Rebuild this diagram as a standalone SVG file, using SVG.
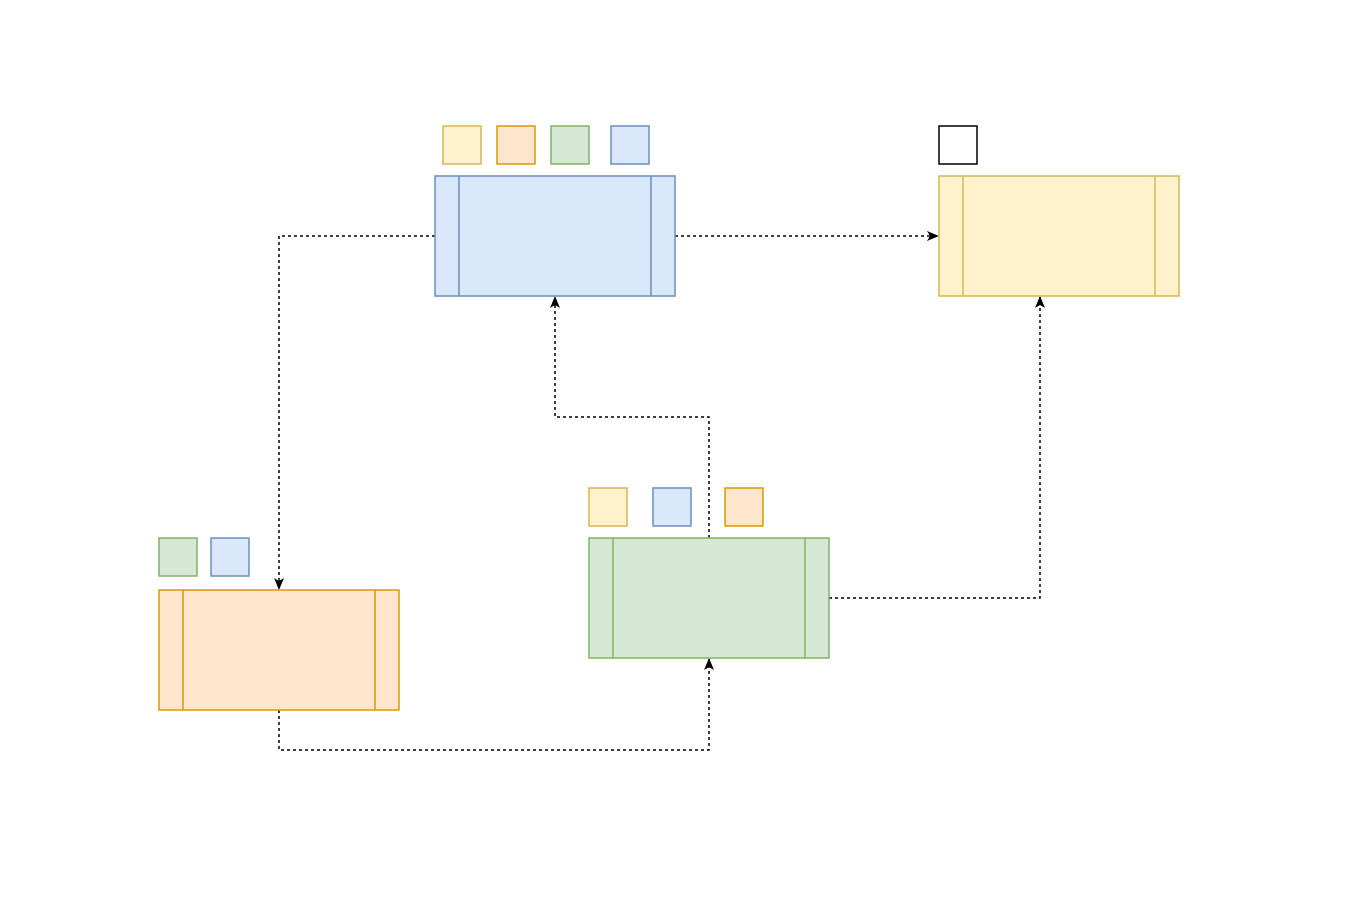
<svg xmlns="http://www.w3.org/2000/svg" width="1358" height="914" viewBox="0 0 1358 914">
<style>
.b{fill:#dae8fc;stroke:#6c8ebf;stroke-width:1.5}
.y{fill:#fff2cc;stroke:#d6b656;stroke-width:1.5}
.o{fill:#ffe6cc;stroke:#d79b00;stroke-width:1.5}
.g{fill:#d5e8d4;stroke:#82b366;stroke-width:1.5}
.w{fill:#ffffff;stroke:#000000;stroke-width:1.5}
.c{fill:none;stroke:#000;stroke-width:1.5;stroke-dasharray:3 3}
</style>
<defs>
<marker id="ar" viewBox="0 0 12 10" refX="11" refY="5" markerWidth="12" markerHeight="10" markerUnits="userSpaceOnUse" orient="auto">
<path d="M0,0 L12,5 L0,10 L3,5 Z" fill="#000"/>
</marker>
</defs>
<rect width="1358" height="914" fill="#fff"/>
<g id="connectors">
<path class="c" d="M435,236 H279 V589" marker-end="url(#ar)"/>
<path class="c" d="M675,236 H938" marker-end="url(#ar)"/>
<path class="c" d="M709,538 V417 H555 V297" marker-end="url(#ar)"/>
<path class="c" d="M829,598 H1040 V297" marker-end="url(#ar)"/>
<path class="c" d="M279,710 V750 H709 V659" marker-end="url(#ar)"/>
</g>
<g id="blue-process">
<rect class="b" x="435" y="176" width="240" height="120"/>
<line class="b" x1="459" y1="176" x2="459" y2="296"/>
<line class="b" x1="651" y1="176" x2="651" y2="296"/>
</g>
<g id="blue-tags">
<rect class="y" x="443" y="126" width="38" height="38"/>
<rect class="o" x="497" y="126" width="38" height="38"/>
<rect class="g" x="551" y="126" width="38" height="38"/>
<rect class="b" x="611" y="126" width="38" height="38"/>
</g>
<g id="yellow-process">
<rect class="y" x="939" y="176" width="240" height="120"/>
<line class="y" x1="963" y1="176" x2="963" y2="296"/>
<line class="y" x1="1155" y1="176" x2="1155" y2="296"/>
</g>
<g id="yellow-tags">
<rect class="w" x="939" y="126" width="38" height="38"/>
</g>
<g id="orange-process">
<rect class="o" x="159" y="590" width="240" height="120"/>
<line class="o" x1="183" y1="590" x2="183" y2="710"/>
<line class="o" x1="375" y1="590" x2="375" y2="710"/>
</g>
<g id="orange-tags">
<rect class="g" x="159" y="538" width="38" height="38"/>
<rect class="b" x="211" y="538" width="38" height="38"/>
</g>
<g id="green-process">
<rect class="g" x="589" y="538" width="240" height="120"/>
<line class="g" x1="613" y1="538" x2="613" y2="658"/>
<line class="g" x1="805" y1="538" x2="805" y2="658"/>
</g>
<g id="green-tags">
<rect class="y" x="589" y="488" width="38" height="38"/>
<rect class="b" x="653" y="488" width="38" height="38"/>
<rect class="o" x="725" y="488" width="38" height="38"/>
</g>
</svg>
